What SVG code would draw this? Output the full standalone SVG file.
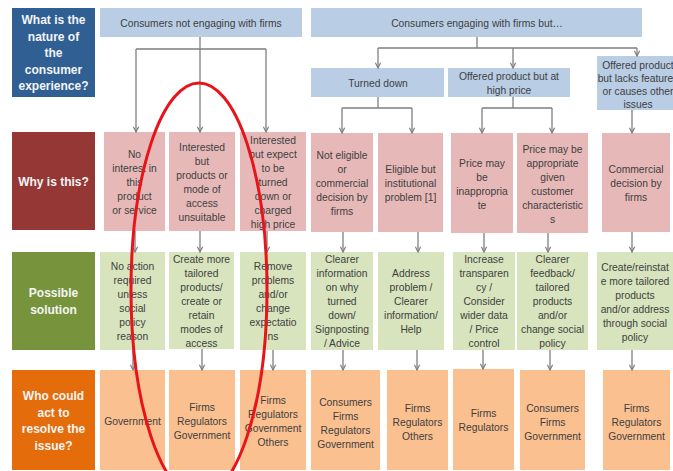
<svg xmlns="http://www.w3.org/2000/svg" width="673" height="471" viewBox="0 0 673 471">
  <defs>
    <marker id="arrow" viewBox="0 0 8 8" refX="7" refY="4" markerWidth="7" markerHeight="7" markerUnits="userSpaceOnUse" orient="auto">
      <path d="M1,1 L7,4 L1,7" fill="none" stroke="#7f7f7f" stroke-width="1.4"/>
    </marker>
    <style>
      text { font-family: "Liberation Sans", Arial, sans-serif; }
      .t { font-size: 10.3px; fill: #3f3f3f; text-anchor: middle; }
      .lbl { font-size: 12px; font-weight: bold; fill: #f4f4f4; text-anchor: middle; }
      .hdr { fill: #b9cde5; }
      .why { fill: #e6b9b8; }
      .sol { fill: #d7e4bd; }
      .who { fill: #fac090; }
      .ln { stroke: #7f7f7f; stroke-width: 1.3; fill: none; }
      .ar { stroke: #7f7f7f; stroke-width: 1.3; fill: none; marker-end: url(#arrow); }
    </style>
  </defs>

  <rect width="673" height="471" fill="#ffffff"/>

  <!-- row labels -->
  <g id="label-nature">
    <rect x="12" y="8" width="83" height="89" fill="#2f5f93"/>
    <text class="lbl"><tspan x="53.5" y="24">What is the</tspan><tspan x="53.5" y="40.5">nature of</tspan><tspan x="53.5" y="57">the</tspan><tspan x="53.5" y="73.5">consumer</tspan><tspan x="53.5" y="90">experience?</tspan></text>
  </g>
  <g id="label-why">
    <rect x="12" y="132" width="83" height="98" fill="#953735"/>
    <text class="lbl" x="53.5" y="186">Why is this?</text>
  </g>
  <g id="label-solution">
    <rect x="12" y="252" width="83" height="98" fill="#77933c"/>
    <text class="lbl"><tspan x="53.5" y="297">Possible</tspan><tspan x="53.5" y="313.5">solution</tspan></text>
  </g>
  <g id="label-who">
    <rect x="12" y="370" width="83" height="100" fill="#e46c0a"/>
    <text class="lbl"><tspan x="53.5" y="400">Who  could</tspan><tspan x="53.5" y="416.5">act to</tspan><tspan x="53.5" y="433">resolve the</tspan><tspan x="53.5" y="449.5">issue?</tspan></text>
  </g>

  <!-- experience headers -->
  <g id="h-not-engaging">
    <rect class="hdr" x="100" y="8" width="202" height="29"/>
    <text class="t" x="201" y="26.5">Consumers not engaging with firms</text>
  </g>
  <g id="h-engaging">
    <rect class="hdr" x="311" y="8" width="331" height="29"/>
    <text class="t" x="477" y="26.5">Consumers engaging with firms but…</text>
  </g>
  <g id="h-turned-down">
    <rect class="hdr" x="311" y="68" width="133" height="29"/>
    <text class="t" x="378" y="86.5">Turned down</text>
  </g>
  <g id="h-high-price">
    <rect class="hdr" x="448" y="68" width="122" height="29"/>
    <text class="t"><tspan x="509" y="79.5">Offered product  but at</tspan><tspan x="509" y="93.5">high price</tspan></text>
  </g>
  <g id="h-lacks-features">
    <rect class="hdr" x="597" y="56" width="80" height="54"/>
    <text class="t"><tspan x="638" y="68.5">Offered product</tspan><tspan x="638" y="81.5">but lacks features</tspan><tspan x="638" y="94.5">or causes other</tspan><tspan x="638" y="107.5">issues</tspan></text>
  </g>

  <!-- why is this? -->
  <g id="why-1">
    <rect class="why" x="104" y="132" width="61" height="99"/>
    <text class="t"><tspan x="134.5" y="157.6">No</tspan><tspan x="134.5" y="171.6">interest in</tspan><tspan x="134.5" y="185.6">this</tspan><tspan x="134.5" y="199.6">product</tspan><tspan x="134.5" y="213.6">or service</tspan></text>
  </g>
  <g id="why-2">
    <rect class="why" x="169" y="132" width="66" height="99"/>
    <text class="t"><tspan x="202" y="150.6">Interested</tspan><tspan x="202" y="164.6">but</tspan><tspan x="202" y="178.6">products or</tspan><tspan x="202" y="192.6">mode of</tspan><tspan x="202" y="206.6">access</tspan><tspan x="202" y="220.6">unsuitable</tspan></text>
  </g>
  <g id="why-3">
    <rect class="why" x="240" y="132" width="66" height="99"/>
    <text class="t"><tspan x="273" y="143.6">Interested</tspan><tspan x="273" y="157.6">but expect</tspan><tspan x="273" y="171.6">to be</tspan><tspan x="273" y="185.6">turned</tspan><tspan x="273" y="199.6">down or</tspan><tspan x="273" y="213.6">charged</tspan><tspan x="273" y="227.6">high price</tspan></text>
  </g>
  <g id="why-4">
    <rect class="why" x="311" y="133" width="62" height="99"/>
    <text class="t"><tspan x="342" y="158.6">Not eligible</tspan><tspan x="342" y="172.6">or</tspan><tspan x="342" y="186.6">commercial</tspan><tspan x="342" y="200.6">decision by</tspan><tspan x="342" y="214.6">firms</tspan></text>
  </g>
  <g id="why-5">
    <rect class="why" x="378" y="133" width="65" height="99"/>
    <text class="t"><tspan x="410.5" y="172.6">Eligible but</tspan><tspan x="410.5" y="186.6">institutional</tspan><tspan x="410.5" y="200.6">problem  [1]</tspan></text>
  </g>
  <g id="why-6">
    <rect class="why" x="451" y="133" width="62" height="100"/>
    <text class="t"><tspan x="482" y="166.6">Price may</tspan><tspan x="482" y="180.6">be</tspan><tspan x="482" y="194.6">inappropria</tspan><tspan x="482" y="208.6">te</tspan></text>
  </g>
  <g id="why-7">
    <rect class="why" x="517" y="133" width="71" height="100"/>
    <text class="t"><tspan x="552.5" y="152.6">Price may be</tspan><tspan x="552.5" y="166.6">appropriate</tspan><tspan x="552.5" y="180.6">given</tspan><tspan x="552.5" y="194.6">customer</tspan><tspan x="552.5" y="208.6">characteristic</tspan><tspan x="552.5" y="222.6">s</tspan></text>
  </g>
  <g id="why-8">
    <rect class="why" x="602" y="133" width="68" height="99"/>
    <text class="t"><tspan x="636" y="172.6">Commercial</tspan><tspan x="636" y="186.6">decision by</tspan><tspan x="636" y="200.6">firms</tspan></text>
  </g>

  <!-- possible solution -->
  <g id="sol-1">
    <rect class="sol" x="100" y="252" width="65" height="98"/>
    <text class="t"><tspan x="132.5" y="269.6">No action</tspan><tspan x="132.5" y="283.6">required</tspan><tspan x="132.5" y="297.6">unless</tspan><tspan x="132.5" y="311.6">social</tspan><tspan x="132.5" y="325.6">policy</tspan><tspan x="132.5" y="339.6">reason</tspan></text>
  </g>
  <g id="sol-2">
    <rect class="sol" x="169" y="252" width="65" height="97"/>
    <text class="t"><tspan x="201.5" y="262.6">Create more</tspan><tspan x="201.5" y="276.6">tailored</tspan><tspan x="201.5" y="290.6">products/</tspan><tspan x="201.5" y="304.6">create or</tspan><tspan x="201.5" y="318.6">retain</tspan><tspan x="201.5" y="332.6">modes of</tspan><tspan x="201.5" y="346.6">access</tspan></text>
  </g>
  <g id="sol-3">
    <rect class="sol" x="240" y="252" width="66" height="98"/>
    <text class="t"><tspan x="273" y="269.6">Remove</tspan><tspan x="273" y="283.6">problems</tspan><tspan x="273" y="297.6">and/or</tspan><tspan x="273" y="311.6">change</tspan><tspan x="273" y="325.6">expectatio</tspan><tspan x="273" y="339.6">ns</tspan></text>
  </g>
  <g id="sol-4">
    <rect class="sol" x="311" y="252" width="62" height="98"/>
    <text class="t"><tspan x="342" y="262.6">Clearer</tspan><tspan x="342" y="276.6">information</tspan><tspan x="342" y="290.6">on why</tspan><tspan x="342" y="304.6">turned</tspan><tspan x="342" y="318.6">down/</tspan><tspan x="342" y="332.6">Signposting</tspan><tspan x="342" y="346.6">/ Advice</tspan></text>
  </g>
  <g id="sol-5">
    <rect class="sol" x="378" y="252" width="66" height="98"/>
    <text class="t"><tspan x="411" y="276.6">Address</tspan><tspan x="411" y="290.6">problem  /</tspan><tspan x="411" y="304.6">Clearer</tspan><tspan x="411" y="318.6">information/</tspan><tspan x="411" y="332.6">Help</tspan></text>
  </g>
  <g id="sol-6">
    <rect class="sol" x="453" y="252" width="62" height="98"/>
    <text class="t"><tspan x="484" y="262.6">Increase</tspan><tspan x="484" y="276.6">transparen</tspan><tspan x="484" y="290.6">cy /</tspan><tspan x="484" y="304.6">Consider</tspan><tspan x="484" y="318.6">wider data</tspan><tspan x="484" y="332.6">/ Price</tspan><tspan x="484" y="346.6">control</tspan></text>
  </g>
  <g id="sol-7">
    <rect class="sol" x="517" y="252" width="71" height="98"/>
    <text class="t"><tspan x="552.5" y="262.6">Clearer</tspan><tspan x="552.5" y="276.6">feedback/</tspan><tspan x="552.5" y="290.6">tailored</tspan><tspan x="552.5" y="304.6">products</tspan><tspan x="552.5" y="318.6">and/or</tspan><tspan x="552.5" y="332.6">change social</tspan><tspan x="552.5" y="346.6">policy</tspan></text>
  </g>
  <g id="sol-8">
    <rect class="sol" x="597" y="252" width="76" height="98"/>
    <text class="t"><tspan x="635" y="270.6">Create/reinstat</tspan><tspan x="635" y="284.6">e more tailored</tspan><tspan x="635" y="298.6">products</tspan><tspan x="635" y="312.6">and/or address</tspan><tspan x="635" y="326.6">through social</tspan><tspan x="635" y="340.6">policy</tspan></text>
  </g>

  <!-- who could act -->
  <g id="who-1">
    <rect class="who" x="100" y="370" width="65" height="100"/>
    <text class="t" x="132.5" y="424.6">Government</text>
  </g>
  <g id="who-2">
    <rect class="who" x="169" y="370" width="66" height="100"/>
    <text class="t"><tspan x="202" y="410.6">Firms</tspan><tspan x="202" y="424.6">Regulators</tspan><tspan x="202" y="438.6">Government</tspan></text>
  </g>
  <g id="who-3">
    <rect class="who" x="240" y="370" width="66" height="100"/>
    <text class="t"><tspan x="273" y="403.6">Firms</tspan><tspan x="273" y="417.6">Regulators</tspan><tspan x="273" y="431.6">Government</tspan><tspan x="273" y="445.6">Others</tspan></text>
  </g>
  <g id="who-4">
    <rect class="who" x="311" y="370" width="69" height="100"/>
    <text class="t"><tspan x="345.5" y="405.6">Consumers</tspan><tspan x="345.5" y="419.6">Firms</tspan><tspan x="345.5" y="433.6">Regulators</tspan><tspan x="345.5" y="447.6">Government</tspan></text>
  </g>
  <g id="who-5">
    <rect class="who" x="387" y="370" width="61" height="100"/>
    <text class="t"><tspan x="417.5" y="411.6">Firms</tspan><tspan x="417.5" y="425.6">Regulators</tspan><tspan x="417.5" y="439.6">Others</tspan></text>
  </g>
  <g id="who-6">
    <rect class="who" x="453" y="369" width="61" height="101"/>
    <text class="t"><tspan x="483.5" y="416.6">Firms</tspan><tspan x="483.5" y="430.6">Regulators</tspan></text>
  </g>
  <g id="who-7">
    <rect class="who" x="520" y="370" width="65" height="100"/>
    <text class="t"><tspan x="552.5" y="411.6">Consumers</tspan><tspan x="552.5" y="425.6">Firms</tspan><tspan x="552.5" y="439.6">Government</tspan></text>
  </g>
  <g id="who-8">
    <rect class="who" x="603" y="370" width="67" height="100"/>
    <text class="t"><tspan x="636.5" y="411.6">Firms</tspan><tspan x="636.5" y="425.6">Regulators</tspan><tspan x="636.5" y="439.6">Government</tspan></text>
  </g>

  <!-- connectors -->
  <g id="connectors">
    <!-- not engaging branch -->
    <path class="ln" d="M200,37 V49 M136,49 H266"/>
    <path class="ar" d="M136,49 V132"/>
    <path class="ar" d="M200,49 V132"/>
    <path class="ar" d="M266,49 V132"/>
    <!-- engaging branch -->
    <path class="ln" d="M477,37 V48 M378,48 H637"/>
    <path class="ar" d="M378,48 V68"/>
    <path class="ar" d="M513,48 V68"/>
    <path class="ar" d="M637,48 V56"/>
    <!-- turned down -->
    <path class="ln" d="M378,97 V108 M342,108 H412"/>
    <path class="ar" d="M342,108 V133"/>
    <path class="ar" d="M412,108 V133"/>
    <!-- high price -->
    <path class="ln" d="M513,97 V108 M482,108 H552"/>
    <path class="ar" d="M482,108 V133"/>
    <path class="ar" d="M552,108 V133"/>
    <!-- lacks features -->
    <path class="ar" d="M632,110 V133"/>
    <!-- why to solution -->
    <path class="ar" d="M135,231 V252"/>
    <path class="ar" d="M200,231 V252"/>
    <path class="ar" d="M267,231 V252"/>
    <path class="ar" d="M343,232 V252"/>
    <path class="ar" d="M418,232 V252"/>
    <path class="ar" d="M484,233 V252"/>
    <path class="ar" d="M548,233 V252"/>
    <path class="ar" d="M632,232 V252"/>
    <!-- solution to who -->
    <path class="ar" d="M133,350 V370"/>
    <path class="ar" d="M202,349 V370"/>
    <path class="ar" d="M273,350 V370"/>
    <path class="ar" d="M343,350 V370"/>
    <path class="ar" d="M417,350 V370"/>
    <path class="ar" d="M483,350 V369"/>
    <path class="ar" d="M550,350 V370"/>
    <path class="ar" d="M632,350 V370"/>
  </g>

  <!-- hand-drawn highlight ring -->
  <g id="highlight">
    <ellipse cx="199" cy="290" rx="68" ry="207" fill="none" stroke="#e8141b" stroke-width="3"/>
  </g>
</svg>
